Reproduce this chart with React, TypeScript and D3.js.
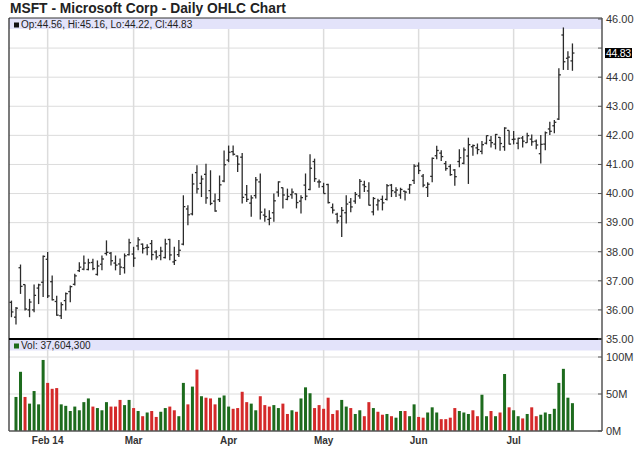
import * as d3 from "d3";

const title = "MSFT - Microsoft Corp - Daily OHLC Chart";

// trading days Jan 22 - Jul 21 2014 (weekdays minus NYSE holidays)
const firstDay = "2014-01-22";
const lastDay = "2014-07-21";
const holidays = ["2014-02-17", "2014-04-18", "2014-05-26", "2014-07-04"];

const opens = [
  36.26, 35.75, 37.45, 36.87, 36.0, 36.0, 36.75, 36.95, 37.74, 36.97,
  36.29, 35.8, 36.32, 36.63, 36.88, 37.35, 37.4, 37.39, 37.63, 37.22,
  37.57, 37.94, 37.95, 37.61, 37.58, 37.45, 37.9, 37.92, 38.2, 38.26,
  38.14, 38.28, 37.99, 37.87, 37.8, 38.42, 37.65, 37.9, 38.26, 39.47,
  39.3, 40.72, 40.35, 40.66, 40.1, 39.74, 39.79, 40.43, 41.15, 41.44,
  41.29, 41.25, 39.96, 39.67, 39.93, 40.4, 39.26, 39.11, 39.34, 40.05,
  40.2, 39.8, 39.96, 39.99, 39.74, 40.29, 40.14, 41.1, 40.4, 40.24,
  40.31, 39.52, 39.29, 39.22, 39.34, 39.7, 39.74, 39.92, 40.3, 40.09,
  39.37, 39.61, 39.8, 39.8, 40.29, 40.05, 39.95, 40.08, 40.15, 40.45,
  40.95, 40.6, 40.21, 40.59, 41.3, 41.39, 41.03, 40.93, 40.81, 41.1,
  41.04, 41.29, 41.61, 41.57, 41.45, 41.73, 41.83, 41.7, 41.93, 41.61,
  42.17, 41.86, 41.73, 41.91, 41.75, 41.87, 41.8, 41.37, 41.7, 42.22,
  42.33, 42.56, 45.45, 44.65, 44.56,
];

const highs = [
  36.32, 36.1, 37.56, 36.87, 36.38, 36.87, 36.9, 37.87, 37.99, 37.18,
  36.49, 36.26, 36.6, 36.84, 37.24, 37.64, 37.87, 37.76, 37.76, 37.7,
  37.87, 38.39, 37.99, 37.87, 37.77, 37.94, 38.45, 38.17, 38.5, 38.28,
  38.26, 38.4, 38.05, 38.17, 38.45, 38.45, 38.17, 38.4, 39.94, 39.6,
  40.68, 40.97, 40.62, 41.02, 40.8, 40.0, 40.62, 41.48, 41.65, 41.65,
  41.31, 41.39, 40.29, 39.94, 40.57, 40.69, 39.49, 39.43, 40.0, 40.42,
  40.21, 40.17, 40.17, 40.0, 39.94, 40.69, 41.35, 41.2, 40.48, 40.37,
  40.34, 39.66, 39.34, 39.54, 39.94, 39.85, 40.05, 40.5, 40.44, 40.39,
  39.88, 39.82, 39.93, 40.33, 40.33, 40.22, 40.2, 40.1, 40.33, 41.01,
  41.07, 40.67, 40.39, 41.24, 41.64, 41.49, 41.12, 41.01, 40.84, 41.52,
  41.58, 41.92, 41.69, 41.72, 41.81, 42.0, 41.98, 42.05, 41.94, 42.28,
  42.17, 42.15, 41.92, 41.98, 42.09, 42.03, 41.86, 42.01, 42.13, 42.47,
  42.53, 44.31, 45.71, 44.89, 45.16,
];

const lows = [
  35.75, 35.5, 36.55, 35.98, 35.75, 35.92, 36.2, 36.44, 36.41, 36.32,
  35.8, 35.69, 35.98, 36.26, 36.84, 37.3, 37.36, 37.36, 37.36, 37.18,
  37.36, 37.87, 37.53, 37.36, 37.2, 37.25, 37.87, 37.48, 38.05, 37.94,
  37.88, 37.71, 37.73, 37.71, 37.77, 37.71, 37.54, 37.82, 38.22, 38.91,
  39.25, 40.0, 39.88, 39.65, 39.6, 39.37, 39.71, 40.39, 41.08, 41.31,
  40.74, 39.66, 39.71, 39.2, 39.83, 39.11, 39.03, 38.91, 39.03, 39.89,
  39.49, 39.77, 39.82, 39.49, 39.31, 39.77, 40.11, 40.4, 40.2, 40.0,
  39.66, 39.31, 38.97, 38.51, 38.97, 39.36, 39.65, 39.82, 40.05, 39.59,
  39.25, 39.42, 39.42, 39.76, 39.88, 39.88, 39.82, 39.76, 39.99, 40.33,
  40.67, 40.22, 39.88, 40.39, 41.18, 41.12, 40.78, 40.61, 40.27, 40.9,
  41.01, 40.33, 41.3, 41.35, 41.35, 41.69, 41.58, 41.52, 41.47, 41.47,
  41.69, 41.69, 41.52, 41.58, 41.75, 41.64, 41.52, 41.03, 41.49, 42.01,
  42.07, 42.53, 44.25, 44.25, 44.22,
];

const closes = [
  35.93, 36.06, 36.81, 36.03, 36.27, 36.5, 36.86, 37.84, 36.48, 36.35,
  35.82, 36.18, 36.56, 36.8, 37.17, 37.47, 37.61, 37.62, 37.42, 37.51,
  37.75, 37.98, 37.69, 37.54, 37.47, 37.86, 38.31, 37.78, 38.41, 38.11,
  38.15, 37.9, 37.82, 38.02, 38.27, 37.89, 37.7, 38.05, 39.55, 39.27,
  40.33, 40.16, 40.5, 39.85, 39.66, 39.4, 40.3, 40.99, 41.42, 41.35,
  41.01, 39.87, 39.8, 39.85, 40.47, 39.36, 39.21, 39.15, 39.75, 40.4,
  39.95, 39.9, 40.05, 39.69, 39.86, 39.91, 40.87, 40.51, 40.4, 40.0,
  39.69, 39.43, 39.06, 39.42, 39.64, 39.54, 39.97, 40.42, 40.24, 39.6,
  39.83, 39.75, 39.68, 40.27, 40.1, 40.12, 40.14, 40.05, 40.3, 40.94,
  40.79, 40.29, 40.32, 41.21, 41.48, 41.27, 40.86, 40.65, 40.58, 41.23,
  41.5, 41.68, 41.65, 41.51, 41.68, 41.99, 41.75, 42.03, 41.72, 42.25,
  41.7, 41.87, 41.9, 41.8, 41.99, 41.78, 41.67, 41.69, 42.09, 42.14,
  42.45, 44.08, 44.53, 44.69, 44.83,
];

// volume in millions of shares (first day has no bar in the picture)
const volumes: (number | null)[] = [
  null, 46, 80, 46, 37, 54, 36, 96, 65, 57,
  58, 36, 34, 27, 33, 28, 39, 44, 33, 31,
  28, 39, 33, 33, 42, 35, 42, 31, 27, 20,
  25, 27, 19, 26, 31, 33, 28, 20, 65, 36,
  60, 83, 47, 45, 44, 36, 45, 48, 33, 30,
  31, 53, 39, 37, 28, 47, 35, 33, 35, 31,
  37, 23, 28, 26, 44, 59, 51, 31, 35, 30,
  45, 23, 28, 42, 33, 31, 23, 28, 20, 39,
  31, 26, 22, 23, 20, 18, 27, 27, 20, 36,
  19, 18, 25, 32, 25, 16, 16, 18, 31, 27,
  25, 23, 28, 20, 49, 20, 27, 20, 25, 77,
  32, 28, 20, 17, 23, 32, 20, 22, 25, 23,
  30, 65, 84, 45, 37.6,
];
const lastVolume = 37604300;

const priceTicks = [35, 36, 37, 38, 39, 40, 41, 42, 43, 44, 45, 46];
const volumeTicks = [0, 50, 100];
const monthLabels = ["Feb 14", "Mar", "Apr", "May", "Jun", "Jul"];

const GREEN = "#1d6b1d";
const RED = "#d42a2a";
const BAR = "#2b2b2b";
const BAND = "#e3e3fa";
const GRID = "#dcdcdc";
const FONT = "'Liberation Sans', Arial, Helvetica, sans-serif";

function tradingDays() {
  const fmt = d3.utcFormat("%Y-%m-%d");
  return d3.utcDay
    .range(new Date(firstDay), d3.utcDay.offset(new Date(lastDay), 1))
    .filter(d => d.getUTCDay() !== 0 && d.getUTCDay() !== 6 && !holidays.includes(fmt(d)));
}

export default function App() {
  const dates = tradingDays();
  const plotLeft = 9;
  const plotRight = 602;
  const priceTop = 18;
  const priceBottom = 339;
  const volTop = 340;
  const volBottom = 431;

  const x = d3.scaleBand<number>()
    .domain(d3.range(dates.length))
    .range([9.2, 9.2 + dates.length * 4.524])
    .padding(0);
  const cx = (i: number) => x(i)! + x.bandwidth() / 2;

  const y = d3.scaleLinear().domain([35, 46]).range([priceBottom, 19]);
  const yv = d3.scaleLinear().domain([0, 100]).range([volBottom, 357]);

  // first trading day of each month shown on the axis
  const monthStarts = d3.range(dates.length).filter(
    i => i > 0 && dates[i].getUTCMonth() !== dates[i - 1].getUTCMonth()
  );

  const n = closes.length - 1;
  const f2 = d3.format(".2f");
  const legend = `Op:${f2(opens[n])}, Hi:${f2(highs[n])}, Lo:${f2(lows[n])}, Cl:${f2(closes[n])}`;
  const lastY = y(closes[n]);

  return (
    <svg width={640} height={468} style={{ position: "absolute", left: 0, top: 0 }} fontFamily={FONT}>
      <rect width={640} height={468} fill="#fff" />
      <text x={10} y={13} fontSize={13.8} fontWeight="bold" fill="#222">{title}</text>

      {/* bands */}
      <rect x={plotLeft} y={priceTop} width={plotRight - plotLeft} height={11} fill={BAND} />
      <rect x={plotLeft} y={volTop} width={plotRight - plotLeft} height={10.5} fill={BAND} />

      {/* grid */}
      {priceTicks.slice(1, -1).map(t => (
        <line key={"pg" + t} x1={plotLeft} x2={plotRight} y1={y(t)} y2={y(t)} stroke={GRID} strokeWidth={1} />
      ))}
      {volumeTicks.slice(1).map(t => (
        <line key={"vg" + t} x1={plotLeft} x2={plotRight} y1={yv(t)} y2={yv(t)} stroke={GRID} strokeWidth={1} />
      ))}
      {monthStarts.map(i => (
        <g key={"mg" + i}>
          <line x1={cx(i)} x2={cx(i)} y1={29} y2={priceBottom} stroke={GRID} strokeWidth={1.5} />
          <line x1={cx(i)} x2={cx(i)} y1={350} y2={volBottom} stroke={GRID} strokeWidth={1.5} />
        </g>
      ))}

      {/* legends */}
      <rect x={14} y={22.5} width={5} height={5} fill="#111" />
      <text x={21} y={28} fontSize={10} fill="#222">{legend}</text>
      <rect x={14} y={343.5} width={5} height={5} fill={GREEN} />
      <text x={21} y={349} fontSize={10} fill="#222">{"Vol: " + d3.format(",")(lastVolume)}</text>

      {/* OHLC bars */}
      {closes.map((c, i) => (
        <g key={"b" + i} stroke={BAR} strokeWidth={1.3}>
          <line x1={cx(i)} x2={cx(i)} y1={y(highs[i])} y2={y(lows[i])} />
          <line x1={cx(i) - 2} x2={cx(i)} y1={y(opens[i])} y2={y(opens[i])} />
          <line x1={cx(i)} x2={cx(i) + 2} y1={y(c)} y2={y(c)} />
        </g>
      ))}

      {/* volume bars */}
      {volumes.map((v, i) =>
        v == null ? null : (
          <rect
            key={"v" + i}
            x={cx(i) - 1.5}
            y={yv(v)}
            width={3}
            height={volBottom - yv(v)}
            fill={i > 0 && closes[i] < closes[i - 1] ? RED : GREEN}
          />
        )
      )}

      {/* frame */}
      <line x1={plotLeft} x2={plotRight} y1={priceTop} y2={priceTop} stroke="#333" strokeWidth={1} />
      <line x1={plotLeft} x2={plotLeft} y1={priceTop} y2={volBottom} stroke="#222" strokeWidth={1.2} />
      <line x1={plotLeft} x2={plotRight} y1={priceBottom} y2={priceBottom} stroke="#000" strokeWidth={2} />
      <line x1={plotLeft} x2={plotRight} y1={volBottom} y2={volBottom} stroke="#555" strokeWidth={1.6} />
      <line x1={plotRight} x2={plotRight} y1={priceTop} y2={volBottom} stroke="#555" strokeWidth={1.5} />

      {/* right price axis; a label under the last-price box is hidden */}
      {priceTicks.map(t => (
        <g key={"pt" + t}>
          <line x1={plotRight - 4} x2={plotRight} y1={y(t)} y2={y(t)} stroke="#555" />
          {Math.abs(y(t) - lastY) > 10 && (
            <text x={606} y={y(t)} dy="0.35em" fontSize={11} fill="#333">{f2(t)}</text>
          )}
        </g>
      ))}
      <rect x={605} y={lastY - 5} width={27} height={10} fill="#000" />
      <text x={606} y={lastY} dy="0.35em" fontSize={10.5} textLength={25} fill="#fff">{f2(closes[n])}</text>

      {/* right volume axis */}
      {volumeTicks.map(t => (
        <g key={"vt" + t}>
          <line x1={plotRight - 4} x2={plotRight} y1={yv(t)} y2={yv(t)} stroke="#555" />
          <text x={606} y={yv(t)} dy="0.35em" fontSize={11} fill="#333">{t + "M"}</text>
        </g>
      ))}

      {/* month labels */}
      {monthStarts.map((i, k) => (
        <text key={"ml" + i} x={cx(i)} y={444} textAnchor="middle" fontSize={10} fontWeight="bold" fill="#333">
          {monthLabels[k]}
        </text>
      ))}
    </svg>
  );
}
